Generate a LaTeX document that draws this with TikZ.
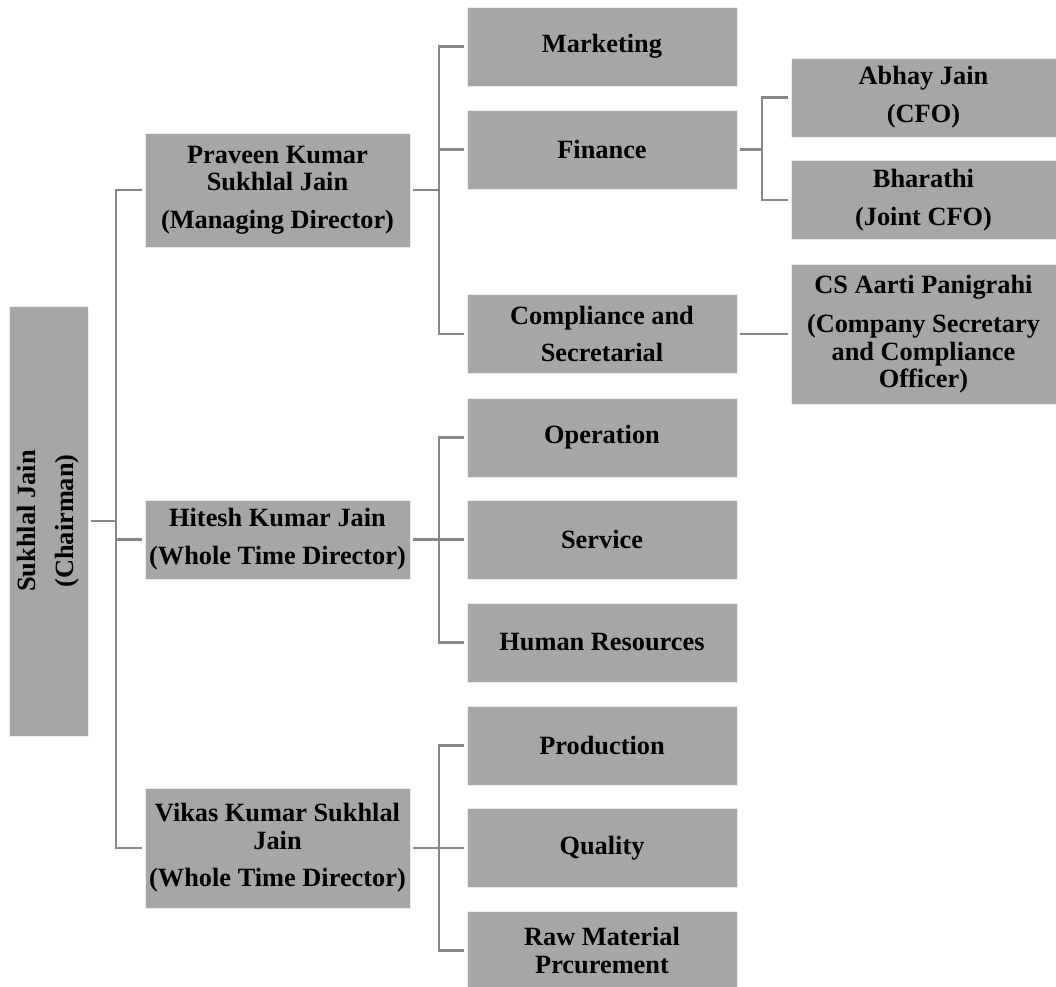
\documentclass[tikz,border=0pt]{standalone}
\usepackage{fontspec}
\setmainfont{Liberation Serif}
\definecolor{boxgray}{RGB}{166,166,166}
\definecolor{linegray}{RGB}{135,135,135}
\tikzset{
  box/.style={fill=boxgray, draw=white!80!boxgray, line width=0.4pt, minimum width=5.3cm,
    minimum height=1.58cm, align=center, inner sep=1pt, outer sep=1.5pt,
    font=\fontsize{15}{15.5}\selectfont\bfseries},
  link/.style={draw=linegray, line width=1.5pt},
}

\begin{document}
\begin{tikzpicture}[x=0.02cm,y=-0.02cm]
\useasboundingbox (0,0) rectangle (1056,987);
% chairman and directors
\node[box, rotate=90, minimum width=8.6cm] (chair) at (48.5,521) {Sukhlal Jain\\[6pt](Chairman)};
\node[box, minimum height=2.28cm] (pkj) at (277.5,190) {Praveen Kumar\\Sukhlal Jain\\[6pt](Managing Director)};
\node[box] (hkj) at (277.5,539.5) {Hitesh Kumar Jain\\[6pt](Whole Time Director)};
\node[box, minimum height=2.4cm] (vkj) at (277.5,848) {Vikas Kumar Sukhlal\\Jain\\[6pt](Whole Time Director)};
% departments
\foreach \n/\y/\t in {mkt/46.5/Marketing, fin/149.5/Finance, comp/334/{Compliance and\\[6pt]Secretarial},
  oper/437.5/Operation, serv/539.5/Service, hr/642.5/Human Resources,
  prod/745.5/Production, qual/848/Quality, raw/950.5/{Raw Material\\Prcurement}} {
  \node[box, minimum width=5.4cm] (\n) at (602,\y) {\t};
}
% officers
\node[box] (abhay) at (923.5,97.5) {Abhay Jain\\[6pt](CFO)};
\node[box] (bhar) at (923.5,200) {Bharathi\\[6pt](Joint CFO)};
\node[box, minimum height=2.8cm] (aarti) at (923.5,334) {CS Aarti Panigrahi\\[7pt](Company Secretary\\and Compliance\\Officer)};

\coordinate (busA) at (116,521);
\coordinate (busB) at (439,0);
\coordinate (busC) at (762,0);

\draw[link] (chair.south) -- (chair.south -| busA);
\draw[link] (pkj.west) -| (busA);
\draw[link] (vkj.west) -| (busA);
\draw[link] (hkj.west) -- (hkj.west -| busA);
\foreach \d/\a/\b/\c in {pkj/mkt/fin/comp, hkj/oper/serv/hr, vkj/prod/qual/raw} {
  \draw[link] (\a.west) -- (\a.west -| busB) |- (\c.west);
  \draw[link] (\b.west) -- (\b.west -| busB);
  \draw[link] (\d.east) -- (\d.east -| busB);
}
\draw[link] (abhay.west) -- (abhay.west -| busC) |- (bhar.west);
\draw[link] (fin.east) -- (fin.east -| busC);
\draw[link] (comp.east) -- (aarti.west);
\end{tikzpicture}
\end{document}
